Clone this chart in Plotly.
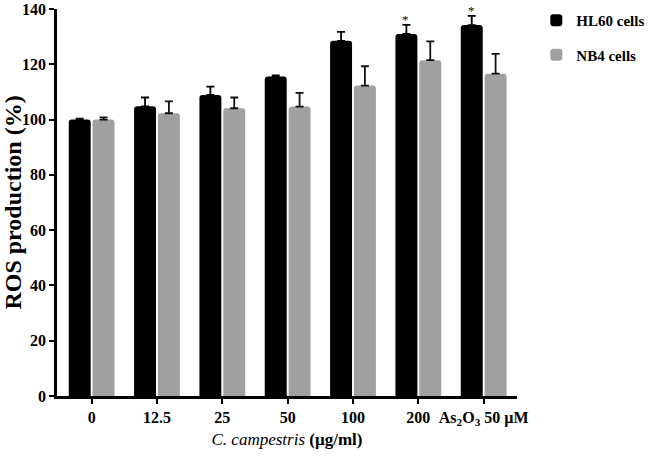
import plotly.graph_objects as go

categories = ["0", "12.5", "25", "50", "100", "200", "As<sub>2</sub>O<sub>3</sub> 50 µM"]
hl60_values = [100, 104.8, 108.9, 115.6, 128.5, 131.0, 134.2]
hl60_errors = [0.3, 3.2, 3.0, 0.4, 3.2, 3.3, 3.3]
nb4_values = [100, 102.3, 104.1, 104.7, 112.3, 121.5, 116.6]
nb4_errors = [0.8, 4.3, 3.9, 5.0, 7.0, 6.8, 7.2]
hl60_significant = [False, False, False, False, False, True, True]
y_ticks = [0, 20, 40, 60, 80, 100, 120, 140]

SERIF = "Liberation Serif"

fig = go.Figure()
fig.add_trace(go.Bar(
    name="<b>HL60 cells</b>", x=categories, y=hl60_values,
    marker=dict(color="#000000", line=dict(width=0)),
    error_y=dict(type="data", array=hl60_errors, symmetric=False,
                 arrayminus=[0] * len(hl60_errors), color="#000000",
                 thickness=1.8, width=4),
    legendgroup="a",
))
fig.add_trace(go.Bar(
    name="<b>NB4 cells</b>", x=categories, y=nb4_values,
    marker=dict(color="#a0a0a2", line=dict(width=0)),
    error_y=dict(type="data", array=nb4_errors, symmetric=False,
                 arrayminus=[0] * len(nb4_errors), color="#111111",
                 thickness=1.8, width=4),
    legendgroup="b",
))

for i, (v, e, sig) in enumerate(zip(hl60_values, hl60_errors, hl60_significant)):
    if sig:
        fig.add_annotation(x=i, y=v + e, text="*", showarrow=False,
                           xshift=-12.5, yshift=5,
                           font=dict(family=SERIF, size=13, color="#000"))

fig.update_layout(
    width=654, height=460,
    margin=dict(l=57, r=128, t=4, b=64),
    paper_bgcolor="white", plot_bgcolor="white",
    barmode="group", bargap=0.27, bargroupgap=0.08,
    barcornerradius=3,
    font=dict(family=SERIF, color="#000"),
    legend=dict(x=1.042, y=1.013, xanchor="left", yanchor="top",
                font=dict(family=SERIF, size=15, color="#000"),
                tracegroupgap=12, traceorder="grouped",
                bgcolor="rgba(0,0,0,0)"),
    xaxis=dict(
        range=[-0.53, 6.51], showline=True, linecolor="#000", linewidth=2.5,
        ticks="outside", ticklen=5, tickwidth=2, tickcolor="#000",
        tickvals=list(range(len(categories))),
        ticktext=[f"<b>{c}</b>" for c in categories],
        tickfont=dict(family=SERIF, size=16, color="#000"),
        showgrid=False, zeroline=False, automargin=False,
        title=dict(text="<i>C. campestris</i> <b>(µg/ml)</b>",
                   font=dict(family=SERIF, size=17, color="#000"), standoff=6),
    ),
    yaxis=dict(
        range=[0, 140.01], tickvals=y_ticks,
        ticktext=[f"<b>{t}</b>" for t in y_ticks],
        showline=True, linecolor="#000", linewidth=2.5,
        ticks="outside", ticklen=5, tickwidth=2, tickcolor="#000",
        tickfont=dict(family=SERIF, size=16, color="#000"),
        showgrid=False, zeroline=False, automargin=False,
        title=dict(text="<b>ROS production (%)</b>",
                   font=dict(family=SERIF, size=24, color="#000"), standoff=6),
    ),
)

fig.write_html("out.html", config={"displayModeBar": False},
               post_script="document.body.style.margin='0';document.body.style.overflow='hidden';")
